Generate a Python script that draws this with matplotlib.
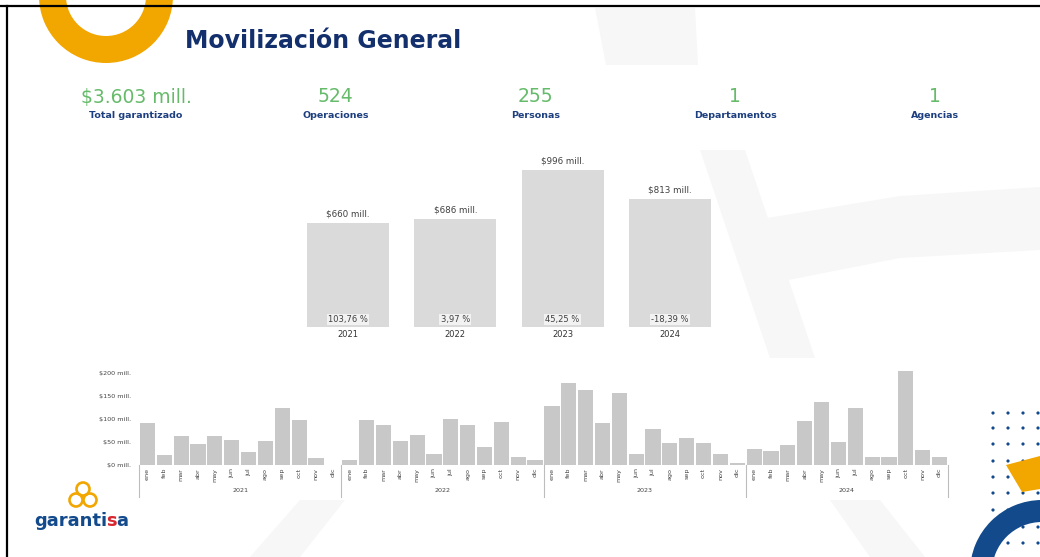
import numpy as np
import matplotlib
matplotlib.use("Agg")
from matplotlib import pyplot as plt
from matplotlib.patches import Polygon, Wedge, Circle, Ellipse
from matplotlib import transforms

# ---- data ----
kpi_values = ["$3.603 mill.", "524", "255", "1", "1"]
kpi_labels = ["Total garantizado", "Operaciones", "Personas", "Departamentos", "Agencias"]

years = ["2021", "2022", "2023", "2024"]
year_totals = [660, 686, 996, 813]
year_growth = ["103,76 %", "3,97 %", "45,25 %", "-18,39 %"]

months = ["ene", "feb", "mar", "abr", "may", "jun", "jul", "ago", "sep", "oct", "nov", "dic"]
monthly_2021 = [92, 21, 63, 45, 62, 55, 28, 52, 124, 98, 15, 0]
monthly_2022 = [11, 98, 88, 53, 65, 23, 100, 88, 39, 93, 17, 11]
monthly_2023 = [128, 179, 163, 91, 157, 23, 78, 47, 58, 47, 25, 5]
monthly_2024 = [35, 30, 43, 95, 138, 51, 125, 18, 18, 205, 33, 18]
y_ticks = [0, 50, 100, 150, 200]

NAVY = "#13306d"
LABEL_NAVY = "#1d3f80"
GREEN = "#66bb6a"
ORANGE = "#f2a600"
BLUE = "#124a8c"
FAINT = "#f7f7f7"

W, H = 1040, 557
fig = plt.figure(figsize=(W / 100, H / 100), dpi=100)

# background / decoration layer in pixel coordinates
bg = fig.add_axes([0, 0, 1, 1])
bg.set_xlim(0, W)
bg.set_ylim(H, 0)
bg.axis("off")

faint_shapes = [
    [(595, 8), (695, 8), (698, 65), (606, 65)],
    [(743, 222), (900, 196), (1040, 187), (1040, 250), (900, 258), (773, 283)],
    [(700, 150), (745, 150), (815, 358), (770, 358)],
    [(300, 500), (345, 500), (300, 557), (250, 557)],
    [(830, 500), (880, 500), (925, 557), (870, 557)],
]
for pts in faint_shapes:
    bg.add_patch(Polygon(pts, closed=True, color=FAINT, lw=0, zorder=0))

# top-left orange ring
bg.add_patch(Wedge((106, -4), 67, 0, 360, width=27, color=ORANGE, lw=0, zorder=1))

# bottom-right decoration: dots, orange segment, blue ring
for dx in [993, 1008, 1023, 1038]:
    for dy in [413, 428, 444, 461, 477, 493, 510, 527, 543]:
        bg.add_patch(Circle((dx, dy), 1.6, color=BLUE, lw=0, zorder=2))
bg.add_patch(Polygon([(1006, 465), (1040, 456), (1040, 489), (1022, 492)],
                     closed=True, color=ORANGE, lw=0, zorder=3))
bg.add_patch(Wedge((1042, 572), 72, 0, 360, width=22, color=BLUE, lw=0, zorder=4))

# frame lines (screenshot border)
bg.plot([0, W], [6, 6], color="black", lw=1.6, zorder=5)
bg.plot([7, 7], [6, H], color="black", lw=1.6, zorder=5)

# title
bg.text(185, 41, "Movilización General", fontsize=17, fontweight="bold",
        color=NAVY, ha="left", va="center")

# KPI row
kpi_x = np.linspace(136, 935, len(kpi_values))
for x, v, lab in zip(kpi_x, kpi_values, kpi_labels):
    bg.text(x, 97, v, fontsize=13.5, color=GREEN, ha="center", va="center")
    bg.text(x, 116, lab, fontsize=6.8, fontweight="bold", color=LABEL_NAVY,
            ha="center", va="center")

# garantisa logo: knot icon + word with a red "s"
for cx, cy in [(83, 489), (76, 500), (90, 500)]:
    bg.add_patch(Ellipse((cx, cy), 13, 13, fill=False, ec=ORANGE, lw=1.9, zorder=3))
logo_kw = dict(fontsize=13, fontweight="bold", va="bottom")
t = bg.text(34, 530, "garanti", color=BLUE, ha="left", **logo_kw)
t = bg.annotate("s", xy=(1, 0), xycoords=t, xytext=(-1, 0), textcoords="offset points",
                color="#d7262e", **logo_kw)
bg.annotate("a", xy=(1, 0), xycoords=t, color=BLUE, **logo_kw)

# ---- annual bars ----
step = 107.3
left_px = 348 - step / 2
ax1 = fig.add_axes([left_px / W, (H - 327) / H, 4 * step / W, 177 / H])
ax1.patch.set_alpha(0)
px_per_mill = 104 / 660
ax1.set_xlim(-0.5, 3.5)
ax1.set_ylim(0, 177 / px_per_mill)
xpos = np.arange(len(years))
ax1.bar(xpos, year_totals, width=0.765, color="#dadada", zorder=2)
for x, v, g in zip(xpos, year_totals, year_growth):
    ax1.annotate(f"${v} mill.", (x, v), xytext=(0, 3), textcoords="offset points",
                 ha="center", va="bottom", fontsize=6.3, color="#404040")
    ax1.annotate(g, (x, 0), xytext=(0, 5.5), textcoords="offset points",
                 ha="center", va="center", fontsize=6.0, color="#404040",
                 bbox=dict(boxstyle="square,pad=0.15", fc="#f2f2f2", ec="none"))
ax1.set_xticks(xpos)
ax1.set_xticklabels(years, fontsize=6.0, color="#333333")
ax1.tick_params(axis="x", length=0, pad=2)
ax1.set_yticks([])
for s in ax1.spines.values():
    s.set_visible(False)

# ---- monthly bars ----
monthly = monthly_2021 + monthly_2022 + monthly_2023 + monthly_2024
x0, x1 = 139, 948
ax2 = fig.add_axes([x0 / W, (H - 465) / H, (x1 - x0) / W, 100 / H])
ax2.patch.set_alpha(0)
ppm = 92 / 200
ax2.set_xlim(-0.5, len(monthly) - 0.5)
ax2.set_ylim(0, 100 / ppm)
mx = np.arange(len(monthly))
ax2.bar(mx, monthly, width=0.9, color="#c8c8c8", zorder=2)
ax2.set_xticks(mx)
ax2.set_xticklabels(months * len(years), rotation=90, fontsize=4.6, color="#444444")
ax2.tick_params(axis="x", length=0, pad=2)
ax2.set_yticks(y_ticks)
ax2.set_yticklabels([f"${t} mill." for t in y_ticks], fontsize=4.6, color="#444444")
ax2.tick_params(axis="y", length=0, pad=6)
for s in ax2.spines.values():
    s.set_visible(False)

trans = transforms.blended_transform_factory(ax2.transData, ax2.transAxes)
for k in range(len(years) + 1):
    xb = k * 12 - 0.5
    ax2.plot([xb, xb], [0, -0.32], transform=trans, color="#bdbdbd", lw=0.8,
             clip_on=False)
for k, yr in enumerate(years):
    ax2.text(k * 12 + 5.5, -0.255, yr, transform=trans, ha="center", va="center",
             fontsize=4.6, color="#444444")

fig.savefig("out.png", dpi=100)
